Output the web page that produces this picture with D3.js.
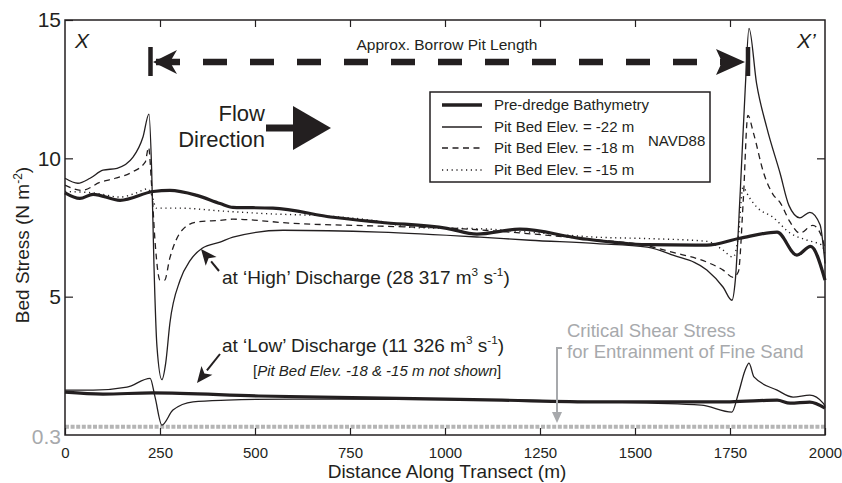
<!DOCTYPE html>
<html>
<head>
<meta charset="utf-8">
<script src="https://cdn.jsdelivr.net/npm/d3@7"></script>
<style>
  body { margin: 0; background: #fff; }
  text { font-family: "Liberation Sans", Arial, sans-serif; fill: #231f20; }
</style>
</head>
<body>
<svg id="chart" width="842" height="483"></svg>
<script>
// Bed stress (N m-2) along the transect as [distance m, stress]
// 'High' discharge
const highPre = [[0,8.75],[39,8.55],[74,8.7],[145,8.48],[232,8.8],[276,8.84],[347,8.66],[408,8.37],[442,8.23],[547,8.2],[705,7.87],[829,7.69],[1005,7.47],[1084,7.26],[1197,7.44],[1355,7.11],[1532,6.88],[1689,6.86],[1776,7.11],[1874,7.33],[1926,6.5],[1962,6.82],[2000,5.6]]
const high22 = [[0,9.28],[34,9.1],[66,9.28],[100,9.57],[137,9.64],[179,10.04],[205,10.76],[221,11.6],[228,9.6],[234,6.2],[242,3.2],[255,2.0],[265,2.6],[276,4.04],[303,5.6],[329,6.3],[361,6.75],[408,6.97],[442,7.15],[574,7.4],[829,7.33],[1092,7.15],[1224,7.04],[1400,6.92],[1532,6.79],[1600,6.5],[1689,5.96],[1732,5.34],[1755,4.87],[1764,5.6],[1777,8.8],[1790,12.5],[1800,14.7],[1820,12.7],[1847,11.1],[1882,9.45],[1905,8.3],[1934,7.85],[1960,8.05],[1987,7.6],[2000,6.2]]
const high18 = [[0,9.03],[45,8.84],[92,9.13],[132,9.28],[176,9.5],[211,9.86],[220,10.4],[228,9.0],[238,6.8],[250,5.6],[262,5.6],[276,6.4],[308,7.4],[347,7.7],[408,7.76],[442,7.8],[600,7.65],[829,7.55],[1050,7.45],[1200,7.3],[1400,7.05],[1526,6.86],[1600,6.6],[1689,6.25],[1732,5.96],[1758,5.7],[1772,5.9],[1785,8.5],[1797,11.55],[1812,10.9],[1839,9.45],[1863,8.7],[1882,8.4],[1908,7.7],[1934,7.3],[1968,7.58],[1992,7.15],[2000,6.7]]
const high15 = [[0,8.8],[75,8.75],[145,8.6],[184,8.73],[218,8.9],[230,8.6],[240,8.2],[303,8.2],[408,8.1],[530,8.0],[705,7.9],[829,7.72],[916,7.5],[1100,7.45],[1250,7.3],[1400,7.15],[1532,7.1],[1689,7.0],[1730,6.7],[1758,6.43],[1772,7.2],[1784,8.95],[1800,8.6],[1821,8.23],[1863,7.87],[1908,7.3],[1953,7.04],[1992,6.86],[2000,6.5]]
// 'Low' discharge
const lowPre = [[0,1.55],[100,1.48],[230,1.52],[510,1.41],[1000,1.3],[1150,1.26],[1400,1.2],[1750,1.2],[1874,1.26],[1908,1.15],[1960,1.19],[2000,0.97]]
const low22 = [[0,1.62],[74,1.62],[163,1.73],[224,2.05],[237,1.37],[255,0.36],[284,0.9],[337,1.2],[426,1.26],[600,1.3],[1000,1.28],[1400,1.2],[1674,1.08],[1755,0.83],[1772,1.5],[1790,2.35],[1800,2.6],[1813,2.1],[1874,1.62],[1916,1.37],[1960,1.44],[1995,1.15],[2000,1.05]]

const criticalStress = 0.3
const xTicks = [0, 250, 500, 750, 1000, 1250, 1500, 1750, 2000]
const yTicks = [5, 10, 15]
const legendLabels = ["Pre-dredge Bathymetry", "Pit Bed Elev. = -22 m", "Pit Bed Elev. = -18 m", "Pit Bed Elev. = -15 m"]

const ink = "#231f20"
const grey = "#a7a9ac"

const svg = d3.select("#chart")

const x = d3.scaleLinear().domain([0, 2000]).range([65, 825])
const y = d3.scaleLinear().domain([0, 15]).range([435, 20])

const line = d3.line()
  .x(d => x(d[0]))
  .y(d => y(d[1]))
  .curve(d3.curveMonotoneX)

// critical shear stress (under everything)
svg.append("line")
  .attr("x1", x(0)).attr("x2", x(2000))
  .attr("y1", y(criticalStress)).attr("y2", y(criticalStress))
  .attr("stroke", "#b5b5b5")
  .attr("stroke-width", 4)
  .attr("stroke-dasharray", "4,1.6")

// styles for each series
const styles = {
  pre: {w: 3.2, dash: null},
  p22: {w: 1.3, dash: null},
  p18: {w: 1.3, dash: "6,4.5"},
  p15: {w: 1.4, dash: "1.2,3.6"}
}

const series = [
  [high15, styles.p15], [high18, styles.p18], [high22, styles.p22], [highPre, styles.pre],
  [low22, styles.p22], [lowPre, styles.pre]
]
series.forEach(([data, s]) => {
  svg.append("path")
    .datum(data)
    .attr("d", line)
    .attr("fill", "none")
    .attr("stroke", ink)
    .attr("stroke-width", s.w)
    .attr("stroke-dasharray", s.dash)
})

// Axes (ticks point inward)
function styleAxis(g, size) {
  g.attr("font-family", null).attr("font-size", size)
  g.select(".domain").remove()
  g.selectAll(".tick line").attr("stroke", ink).attr("stroke-width", 1.2)
}
svg.append("g")
  .attr("transform", "translate(0,435)")
  .call(d3.axisBottom(x).tickValues(xTicks).tickSize(-7).tickPadding(12).tickFormat(d3.format("d")))
  .call(g => styleAxis(g, 15))
svg.append("g")
  .attr("transform", "translate(0,20)")
  .call(d3.axisTop(x).tickValues(xTicks.slice(1, -1)).tickSize(-7).tickFormat(""))
  .call(g => styleAxis(g, 15))
svg.append("g")
  .attr("transform", "translate(65,0)")
  .call(d3.axisLeft(y).tickValues(yTicks).tickSize(-8).tickPadding(4))
  .call(g => styleAxis(g, 21))
svg.append("g")
  .attr("transform", "translate(825,0)")
  .call(d3.axisRight(y).tickValues([5, 10]).tickSize(-8).tickFormat(""))
  .call(g => styleAxis(g, 21))

svg.append("text")
  .attr("x", 61).attr("y", 444)
  .attr("text-anchor", "end")
  .attr("font-size", 21)
  .style("fill", grey)
  .text("0.3")

// frame
svg.append("rect")
  .attr("x", 65).attr("y", 20).attr("width", 760).attr("height", 415)
  .attr("fill", "none").attr("stroke", ink).attr("stroke-width", 1.5)

// helper for text with superscripts
function supText(xp, yp, size, parts) {
  const t = svg.append("text").attr("x", xp).attr("y", yp).attr("font-size", size)
  let shifted = false
  parts.forEach(p => {
    if (typeof p === "string") {
      const s = t.append("tspan").text(p)
      if (shifted) { s.attr("dy", size * 0.4); shifted = false }
    } else {
      t.append("tspan").attr("dy", -size * 0.4).attr("font-size", size * 0.62).text(p.sup)
      shifted = true
    }
  })
  return t
}

// axis titles
svg.append("text")
  .attr("x", 447).attr("y", 478)
  .attr("text-anchor", "middle")
  .attr("font-size", 19)
  .text("Distance Along Transect (m)")

const yl = svg.append("text")
  .attr("transform", "translate(29,245) rotate(-90)")
  .attr("text-anchor", "middle")
  .attr("font-size", 19)
yl.append("tspan").text("Bed Stress (N m")
yl.append("tspan").attr("dy", -7).attr("font-size", 12).text("-2")
yl.append("tspan").attr("dy", 7).text(")")

// X and X'
svg.append("text").attr("x", 75).attr("y", 48).attr("font-size", 21).attr("font-style", "italic").text("X")
svg.append("text").attr("x", 797).attr("y", 48).attr("font-size", 21).attr("font-style", "italic").text("X’")

// borrow pit length arrow
svg.append("text")
  .attr("x", 447).attr("y", 50)
  .attr("text-anchor", "middle")
  .attr("font-size", 15.5)
  .text("Approx. Borrow Pit Length")
svg.append("line")
  .attr("x1", 156).attr("x2", 724).attr("y1", 62).attr("y2", 62)
  .attr("stroke", ink).attr("stroke-width", 6.5)
  .attr("stroke-dasharray", "24,23")
svg.append("path").attr("d", "M153,62 L177,50 L170,62 L177,74 Z").attr("fill", ink)
svg.append("path").attr("d", "M745,62 L716,49 L722,62 L716,75 Z").attr("fill", ink)
svg.append("line").attr("x1", 150.5).attr("x2", 150.5).attr("y1", 47).attr("y2", 76)
  .attr("stroke", ink).attr("stroke-width", 4.5)
svg.append("line").attr("x1", 748).attr("x2", 748).attr("y1", 47).attr("y2", 76)
  .attr("stroke", ink).attr("stroke-width", 4.5)

// flow direction
svg.append("text").attr("x", 265).attr("y", 121).attr("text-anchor", "end").attr("font-size", 22).text("Flow")
svg.append("text").attr("x", 265).attr("y", 147).attr("text-anchor", "end").attr("font-size", 22).text("Direction")
svg.append("rect").attr("x", 266).attr("y", 124.5).attr("width", 29).attr("height", 7).attr("fill", ink)
svg.append("path").attr("d", "M293,106 L331,128 L293,150 Z").attr("fill", ink)

// legend
const lg = svg.append("g")
lg.append("rect")
  .attr("x", 430).attr("y", 92).attr("width", 280).attr("height", 90)
  .attr("fill", "#fff").attr("stroke", ink).attr("stroke-width", 1.5)
const legStyles = [styles.pre, styles.p22, styles.p18, styles.p15]
const legY = [105, 127, 148, 170]
legendLabels.forEach((lab, i) => {
  lg.append("line")
    .attr("x1", 442).attr("x2", 482).attr("y1", legY[i]).attr("y2", legY[i])
    .attr("stroke", ink)
    .attr("stroke-width", i === 0 ? 3.6 : legStyles[i].w)
    .attr("stroke-dasharray", legStyles[i].dash)
  lg.append("text")
    .attr("x", 494).attr("y", legY[i] + 5)
    .attr("font-size", 15)
    .text(lab)
})
lg.append("text").attr("x", 648).attr("y", 146).attr("font-size", 15).text("NAVD88")

// annotation arrows
function arrow(x1, y1, x2, y2, col, len, half, w) {
  const a = Math.atan2(y2 - y1, x2 - x1)
  const bx = x2 - len * Math.cos(a), by = y2 - len * Math.sin(a)
  svg.append("line").attr("x1", x1).attr("y1", y1).attr("x2", bx).attr("y2", by)
    .attr("stroke", col).attr("stroke-width", w)
  const px = -Math.sin(a) * half, py = Math.cos(a) * half
  svg.append("path")
    .attr("d", `M${x2},${y2} L${bx + px},${by + py} L${bx + len * 0.25 * Math.cos(a)},${by + len * 0.25 * Math.sin(a)} L${bx - px},${by - py} Z`)
    .attr("fill", col)
}
arrow(219, 271, 201, 249, ink, 16, 7, 2)
arrow(220, 354, 197, 383, ink, 16, 7, 2)

supText(222, 284, 19, ["at ‘High’ Discharge (28 317 m", {sup: "3"}, " s", {sup: "-1"}, ")"])
supText(222, 352, 19, ["at ‘Low’ Discharge (11 326 m", {sup: "3"}, " s", {sup: "-1"}, ")"])

const note = svg.append("text").attr("x", 253).attr("y", 376).attr("font-size", 15)
note.append("tspan").text("[")
note.append("tspan").attr("font-style", "italic").text("Pit Bed Elev. -18 & -15 m not shown")
note.append("tspan").text("]")

// critical shear stress label
svg.append("text").attr("x", 567).attr("y", 337).attr("font-size", 18.5).style("fill", grey).text("Critical Shear Stress")
svg.append("text").attr("x", 567).attr("y", 358).attr("font-size", 18.5).style("fill", grey).text("for Entrainment of Fine Sand")
svg.append("path").attr("d", "M562,348 L557,348 L557,414").attr("fill", "none").attr("stroke", grey).attr("stroke-width", 2)
svg.append("path").attr("d", "M552,412 L562,412 L557,423 Z").attr("fill", grey)
</script>
</body>
</html>
